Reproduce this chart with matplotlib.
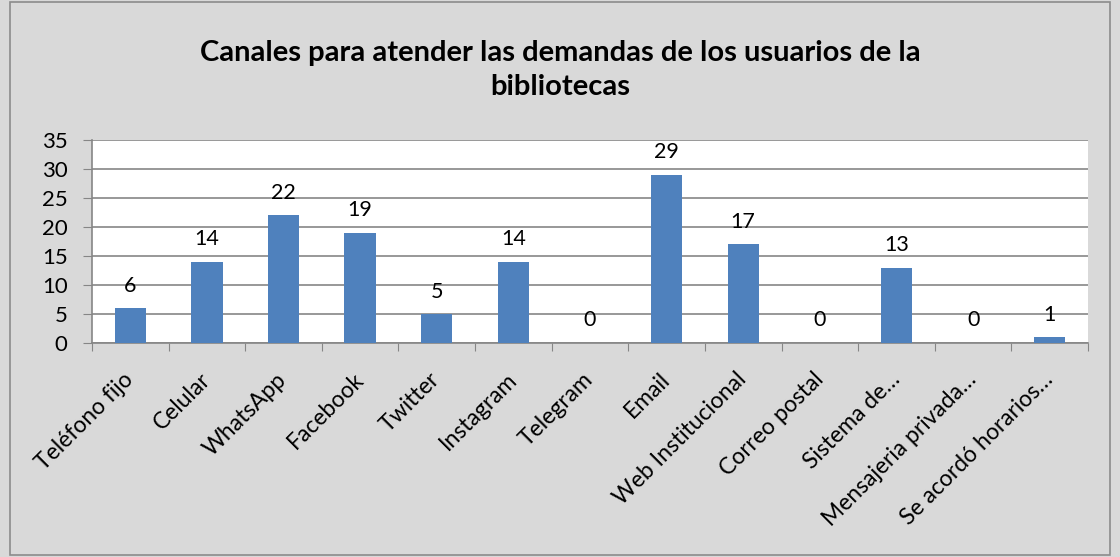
import matplotlib
matplotlib.use("Agg")
import matplotlib.pyplot as plt
from matplotlib.patches import Rectangle

categorias = ["Teléfono fijo", "Celular", "WhatsApp", "Facebook", "Twitter",
              "Instagram", "Telegram", "Email", "Web Institucional",
              "Correo postal", "Sistema de…", "Mensajeria privada…",
              "Se acordó horarios…"]
valores = [6, 14, 22, 19, 5, 14, 0, 29, 17, 0, 13, 0, 1]
titulo = "Canales para atender las demandas de los usuarios de la\nbibliotecas"

plt.rcParams['font.family'] = ['Lato', 'DejaVu Sans']

fig = plt.figure(figsize=(11.2, 5.57), dpi=100)
fig.patch.set_facecolor("#d9d9d9")
fig.patches.append(Rectangle((10 / 1120, 2 / 557), 1100 / 1120, 553 / 557,
                             transform=fig.transFigure, fill=False,
                             edgecolor="#8c8c8c", lw=1.2))

ax = fig.add_axes([92 / 1120, 1 - 343 / 557, 996 / 1120, 203 / 557])
ax.set_facecolor("white")

x = range(len(categorias))
ax.bar(x, valores, width=0.41, color="#4f81bd", zorder=3)
for i, v in zip(x, valores):
    ax.annotate(str(v), (i, v), xytext=(0, 9), textcoords="offset points",
                ha="center", va="bottom", fontsize=15.5)

ax.set_xlim(-0.5, len(categorias) - 0.5)
ax.set_ylim(0, 35)
ax.set_yticks(range(0, 36, 5))
ax.tick_params(axis="y", labelsize=16, length=6.5, color="#868686", pad=11)
ax.yaxis.grid(True, color="#868686", lw=1.2, zorder=0)

ax.set_xticks([i - 0.5 for i in range(len(categorias) + 1)], minor=False)
ax.set_xticklabels([""] * (len(categorias) + 1))
ax.tick_params(axis="x", length=6, color="#868686", direction="out")
ax.set_xticks(list(x), minor=True)
ax.set_xticklabels(categorias, minor=True, rotation=45, ha="right",
                   va="center", rotation_mode="anchor", fontsize=16.5)
ax.tick_params(axis="x", which="minor", length=0, pad=24)

for s in ["top", "right"]:
    ax.spines[s].set_visible(False)
for s in ["left", "bottom"]:
    ax.spines[s].set_color("#868686")
    ax.spines[s].set_linewidth(1.2)

fig.text(0.5, 1 - 70 / 557, titulo, ha="center", va="center", fontsize=21,
         fontweight="bold", linespacing=1.4)

fig.savefig("out.png", dpi=100, facecolor=fig.get_facecolor())
